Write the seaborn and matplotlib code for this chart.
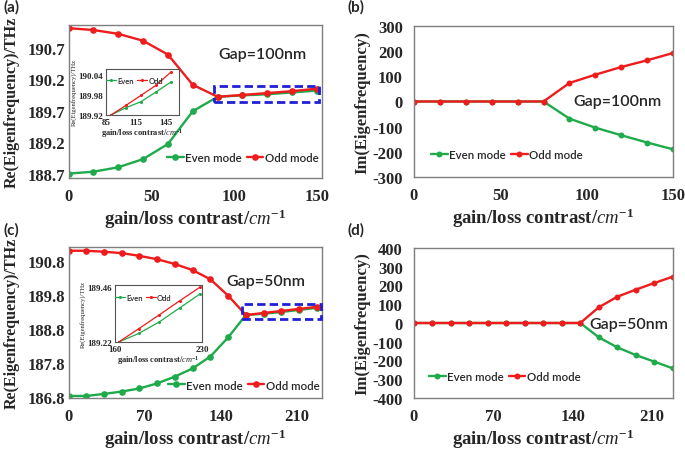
import matplotlib
matplotlib.use("Agg")
import matplotlib.pyplot as plt
import seaborn as sns
import pandas as pd
from matplotlib.patches import Rectangle

# ---------------- data ----------------
x_gap100 = [0, 15, 30, 45, 60, 75, 90, 105, 120, 135, 150]
re_even_gap100 = [188.70, 188.73, 188.80, 188.93, 189.17, 189.69, 189.92, 189.942, 189.960, 189.989, 190.019]
re_odd_gap100 = [191.01, 190.98, 190.92, 190.81, 190.59, 190.11, 189.92, 189.949, 189.979, 190.009, 190.049]
im_even_gap100 = [0, 0, 0, 0, 0, 0, -68, -104, -134, -163, -190]
im_odd_gap100 = [0, 0, 0, 0, 0, 0, 73.5, 106.6, 137, 163.6, 192.7]

x_gap50 = [0, 16.3, 32.6, 48.9, 65.2, 81.5, 97.8, 114.1, 130.4, 146.7, 163.0, 179.3, 195.6, 211.9, 228.2]
re_even_gap50 = [186.84, 186.84, 186.90, 186.97, 187.06, 187.21, 187.41, 187.65, 188.00, 188.56,
                 189.22, 189.258, 189.308, 189.369, 189.43]
re_odd_gap50 = [191.11, 191.11, 191.08, 191.04, 190.96, 190.86, 190.72, 190.54, 190.27, 189.79,
                189.22, 189.279, 189.339, 189.40, 189.46]
im_even_gap50 = [0, 0, 0, 0, 0, 0, 0, 0, 0, 0, -76.4, -129.8, -170.7, -206, -241.8]
im_odd_gap50 = [0, 0, 0, 0, 0, 0, 0, 0, 0, 0, 83.6, 140, 177.8, 213, 247]

mode_labels = ["Even mode", "Odd mode"]
inset_labels = ["Even", "Odd"]
gap_labels = ["Gap=100nm", "Gap=50nm"]

# ---------------- style ----------------
sns.set_style("white")
plt.rcParams["mathtext.fontset"] = "custom"
plt.rcParams["mathtext.it"] = "Liberation Serif:italic"
plt.rcParams["mathtext.rm"] = "Liberation Serif:bold"

GREEN = "#1faa4b"
RED = "#ee1c1c"
SERIF = "Liberation Serif"
SANS = "Lato"

fig = plt.figure(figsize=(6.85, 4.52), dpi=100)

W, H = 685.0, 452.0
def box(l, t, r, b):
    return [l / W, 1 - b / H, (r - l) / W, (b - t) / H]

ax_a = fig.add_axes(box(68.5, 26, 322, 179))
ax_b = fig.add_axes(box(414, 27, 673, 178))
ax_c = fig.add_axes(box(68.5, 248, 322, 399))
ax_d = fig.add_axes(box(414, 249, 673, 399))


def draw(ax, x, even, odd, labels, ms=4.8, lw=1.7):
    sns.lineplot(x=x, y=even, ax=ax, color=GREEN, marker="o", markersize=ms, markeredgewidth=0,
                 linewidth=lw, sort=False, label=labels[0])
    sns.lineplot(x=x, y=odd, ax=ax, color=RED, marker="o", markersize=ms, markeredgewidth=0,
                 linewidth=lw, sort=False, label=labels[1])


def style_main(ax, ylabel, xticks, yticks, xlim, ylim, ytickfmt, ypad, ylabelpad, ylabelsize):
    ax.set_xlim(*xlim)
    ax.set_ylim(*ylim)
    ax.set_xticks(xticks)
    ax.set_yticks(yticks)
    ax.set_xticklabels([str(t) for t in xticks], fontfamily=SERIF, fontweight="bold", fontsize=12)
    ax.set_yticklabels([ytickfmt.format(t) for t in yticks], fontfamily=SERIF, fontweight="bold", fontsize=12)
    ax.tick_params(axis="x", length=0, pad=7)
    ax.tick_params(axis="y", length=0, pad=ypad)
    for s in ax.spines.values():
        s.set_color("#7f7f7f")
        s.set_linewidth(1.0)
    ax.set_xlabel(r"gain/loss contrast/$cm^{-1}$", fontfamily=SERIF, fontweight="bold", fontsize=13.5, labelpad=2)
    ax.set_ylabel(ylabel, fontfamily=SERIF, fontweight="bold", fontsize=ylabelsize, labelpad=ylabelpad)


def main_legend(ax, cx, cy):
    ax.legend(loc="center", bbox_to_anchor=(cx, cy), ncol=2, frameon=False,
              prop={"family": SANS, "size": 8.3, "weight": "semibold"}, handlelength=1.45,
              columnspacing=0.4, handletextpad=0.15, borderaxespad=0)


# ----- (a) -----
draw(ax_a, x_gap100, re_even_gap100, re_odd_gap100, mode_labels)
style_main(ax_a, "Re(Eigenfrequency)/THz", [0, 50, 100, 150], [188.7, 189.2, 189.7, 190.2, 190.7],
           (0, 153), (188.63, 191.06), "{:.1f}", 2.5, 5.5, 11.5)
main_legend(ax_a, 0.688, 0.137)
ax_a.text(0.767, 0.81, gap_labels[0], transform=ax_a.transAxes, ha="center", va="center",
          fontfamily=SANS, fontsize=11.5, fontweight="semibold")
ax_a.add_patch(Rectangle((87.8, 189.843), 63.4, 0.253, fill=False, edgecolor="#1f1fd6",
                         linestyle=(0, (3, 1.5)), linewidth=2.0, clip_on=False, zorder=5))

# ----- (b) -----
draw(ax_b, x_gap100, im_even_gap100, im_odd_gap100, mode_labels, ms=4.3)
style_main(ax_b, "Im(Eigenfrequency)", [0, 50, 100, 150], [-300, -200, -100, 0, 100, 200, 300],
           (0, 150), (-300, 300), "{:d}", 8, 1.5, 12)
main_legend(ax_b, 0.359, 0.146)
ax_b.text(0.784, 0.503, gap_labels[0], transform=ax_b.transAxes, ha="center", va="center",
          fontfamily=SANS, fontsize=11.5, fontweight="semibold")

# ----- (c) -----
draw(ax_c, x_gap50, re_even_gap50, re_odd_gap50, mode_labels)
style_main(ax_c, "Re(Eigenfrequency)/THz", [0, 70, 140, 210], [186.8, 187.8, 188.8, 189.8, 190.8],
           (0, 233), (186.78, 191.22), "{:.1f}", 2.5, 5.5, 11.5)
main_legend(ax_c, 0.692, 0.086)
ax_c.text(0.779, 0.775, gap_labels[1], transform=ax_c.transAxes, ha="center", va="center",
          fontfamily=SANS, fontsize=11.5, fontweight="semibold")
ax_c.add_patch(Rectangle((159.6, 189.10), 72.2, 0.44, fill=False, edgecolor="#1f1fd6",
                         linestyle=(0, (3, 1.5)), linewidth=2.0, clip_on=False, zorder=5))

# ----- (d) -----
draw(ax_d, x_gap50, im_even_gap50, im_odd_gap50, mode_labels, ms=4.3)
style_main(ax_d, "Im(Eigenfrequency)", [0, 70, 140, 210], [-400, -300, -200, -100, 0, 100, 200, 300, 400],
           (0, 228.5), (-400, 400), "{:d}", 8, 1.5, 12)
main_legend(ax_d, 0.351, 0.14)
ax_d.text(0.83, 0.493, gap_labels[1], transform=ax_d.transAxes, ha="center", va="center",
          fontfamily=SANS, fontsize=11.5, fontweight="semibold")


# ----- insets -----
def style_inset(ax, xlim, ylim, xticks, yticks, xfmt, yfmt):
    ax.set_xlim(*xlim)
    ax.set_ylim(*ylim)
    ax.set_xticks(xticks)
    ax.set_yticks(yticks)
    ax.set_xticklabels([xfmt.format(t) for t in xticks], fontfamily=SERIF, fontweight="bold", fontsize=6.5)
    ax.set_yticklabels([yfmt.format(t) for t in yticks], fontfamily=SERIF, fontweight="bold", fontsize=6.5)
    ax.tick_params(length=0, pad=2)
    for s in ax.spines.values():
        s.set_color("#555555")
        s.set_linewidth(0.8)
    ax.set_xlabel(r"gain/loss contrast/$cm^{-1}$", fontfamily=SERIF, fontweight="bold", fontsize=6, labelpad=0)
    ax.set_ylabel("Re(Eigenfrequency)/THz", fontfamily=SERIF, fontsize=4.8, labelpad=1)
    ax.legend(loc="upper left", bbox_to_anchor=(-0.04, 0.9), ncol=2, frameon=False,
              prop={"family": SANS, "size": 5.5, "weight": "semibold"}, handlelength=1.3,
              columnspacing=0.4, handletextpad=0.2, borderaxespad=0)


ins_a = fig.add_axes(box(106, 70, 179, 116))
draw(ins_a, x_gap100[6:], re_even_gap100[6:], re_odd_gap100[6:], inset_labels, ms=2.2, lw=0.9)
style_inset(ins_a, (85, 158), (189.92, 190.058), [85, 115, 145], [189.92, 189.98, 190.04], "{:d}", "{:.2f}")

ins_c = fig.add_axes(box(115, 286, 202, 343))
draw(ins_c, x_gap50[10:], re_even_gap50[10:], re_odd_gap50[10:], inset_labels, ms=2.2, lw=0.9)
style_inset(ins_c, (160, 230), (189.22, 189.47), [160, 230], [189.22, 189.46], "{:d}", "{:.2f}")

# panel letters
for lbl, (px, py) in zip(["(a)", "(b)", "(c)", "(d)"], [(3, 0), (348, 0), (3, 223), (348, 223)]):
    fig.text(px / W, 1 - py / H, lbl, ha="left", va="top", fontfamily=SANS, fontweight="bold", fontsize=11)

fig.savefig("out.png", dpi=100)
